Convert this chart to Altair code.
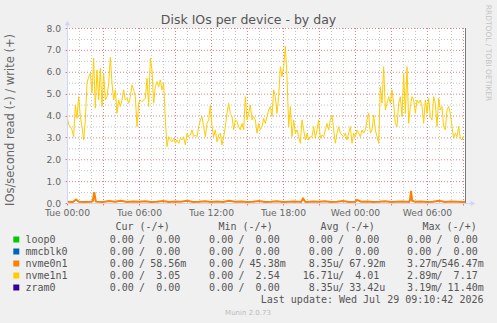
import json
import altair as alt
import pandas as pd

# ---------------- data ----------------
x_tick_hours = [0, 6, 12, 18, 24, 30]
x_tick_labels = ["Tue 00:00", "Tue 06:00", "Tue 12:00", "Tue 18:00", "Wed 00:00", "Wed 06:00"]
y_ticks = [0, 1, 2, 3, 4, 5, 6, 7, 8]
span_hours = 33.25
sample_minutes = 25 / 3

nvme1n1_write = [
    4.02, 3.57, 3.49, 3.34, 3.03, 4.48, 3.87, 4.86, 3.95, 3.49,
    2.88, 3.80, 5.47, 5.78, 5.93, 5.02, 6.62, 4.33, 6.08, 4.71,
    6.16, 4.41, 5.93, 4.71, 4.86, 5.47, 6.66, 5.47, 4.71, 5.17,
    4.10, 4.71, 4.41, 4.71, 5.17, 4.71, 4.79, 4.56, 4.86, 5.40,
    5.17, 4.86, 3.49, 4.56, 4.71, 4.63, 4.71, 4.79, 5.70, 4.41,
    6.62, 6.08, 4.56, 5.32, 5.55, 5.32, 5.63, 5.17, 5.47, 3.80,
    2.58, 3.03, 2.88, 2.80, 2.96, 2.73, 2.88, 2.73, 2.96, 2.88,
    3.03, 2.65, 3.19, 3.03, 3.11, 3.34, 3.03, 3.11, 3.03, 3.49,
    3.80, 3.95, 3.49, 3.03, 3.64, 3.80, 4.48, 3.49, 3.03, 3.34,
    2.80, 3.11, 3.19, 2.65, 3.03, 3.49, 4.10, 4.56, 4.10, 3.95,
    3.34, 3.80, 3.72, 3.49, 3.34, 3.64, 3.34, 4.86, 3.80, 4.10,
    4.48, 3.80, 3.95, 3.80, 3.19, 3.64, 3.34, 3.49, 3.87, 3.64,
    3.95, 4.25,
    4.41, 3.95, 5.17, 4.86, 4.10, 4.86, 6.23, 5.78, 6.23, 7.17,
    5.78, 3.49, 4.41, 3.03, 3.80, 3.19, 3.34, 3.03, 2.73, 3.80,
    3.34, 2.88, 3.19, 2.88, 3.03, 3.03, 3.49, 2.96, 3.34, 3.80,
    2.96, 3.11, 3.03, 3.34, 3.64, 3.34, 3.80, 4.02, 3.34, 2.73,
    3.19, 3.49, 3.19, 3.11, 3.03, 3.19, 2.88, 3.19, 3.49, 2.73,
    3.19, 3.03, 3.34, 3.19, 3.03, 3.34, 3.19, 3.34, 3.80, 4.10,
    3.19, 3.34, 4.02, 3.34, 3.03, 2.73, 5.32, 4.56, 6.23, 4.25,
    4.56, 4.86, 4.56, 5.17, 4.56, 3.64, 3.49, 4.56, 4.86, 3.95,
    5.93, 4.10, 6.23, 3.64, 4.41, 4.86, 4.71, 4.10, 4.71, 4.56,
    4.71, 4.41, 3.64, 4.71, 4.10, 4.79, 3.95, 3.80, 4.86, 4.56,
    3.49, 4.79, 4.25, 4.41, 3.49, 3.34, 4.25, 4.41, 4.10, 3.49,
    2.96, 3.19, 3.03, 3.49, 2.96, 2.88, 3.05,
]

nvme0n1_hours = [
    0.0, 0.5, 0.75, 1.0, 1.5, 2.0, 2.15, 2.27, 2.4, 2.5,
    3.0, 3.5, 4.0, 4.5, 5.0, 5.5, 6.0,
    6.5, 7.0, 7.5, 8.0, 8.5, 9.0, 9.5, 10.0,
    10.5, 11.0, 11.5, 12.0, 12.5, 13.0, 13.5, 14.0,
    14.5, 15.0, 15.5, 16.0, 16.5, 17.0, 17.5, 18.0,
    18.5, 19.0, 19.5, 19.67, 19.85, 20.0,
    20.5, 21.0, 21.5, 22.0, 22.5, 23.0, 23.5, 24.0,
    24.17, 24.5, 25.0, 25.5, 26.0, 26.5, 27.0, 27.5, 28.0,
    28.5, 28.58, 28.67, 28.76, 29.0,
    29.5, 30.0, 30.5, 31.0, 31.5, 32.0, 32.5, 33.0, 33.2,
]
nvme0n1_write = [
    0.06, 0.05, 0.16, 0.06, 0.05, 0.06, 0.08, 0.50, 0.07, 0.06,
    0.05, 0.09, 0.06, 0.10, 0.05, 0.07, 0.06,
    0.08, 0.05, 0.06, 0.09, 0.05, 0.07, 0.06, 0.10,
    0.05, 0.06, 0.08, 0.05, 0.07, 0.05, 0.10, 0.06,
    0.07, 0.05, 0.06, 0.09, 0.05, 0.06, 0.08, 0.05,
    0.06, 0.07, 0.05, 0.20, 0.06, 0.05,
    0.07, 0.06, 0.08, 0.05, 0.06, 0.09, 0.05, 0.06,
    0.14, 0.06, 0.07, 0.05, 0.06, 0.08, 0.05, 0.06, 0.07,
    0.05, 0.12, 0.55, 0.10, 0.06,
    0.07, 0.05, 0.06, 0.10, 0.05, 0.07, 0.06, 0.05, 0.06,
]

devices = ["loop0", "mmcblk0", "nvme0n1", "nvme1n1", "zram0"]
device_colors = ["#00CC00", "#0066B3", "#FF8000", "#FFCC00", "#330099"]
cur_read = ["0.00", "0.00", "0.00", "0.00", "0.00"]
cur_write = ["0.00", "0.00", "58.56m", "3.05", "0.00"]
min_read = ["0.00", "0.00", "0.00", "0.00", "0.00"]
min_write = ["0.00", "0.00", "45.38m", "2.54", "0.00"]
avg_read = ["0.00", "0.00", "8.35u", "16.71u", "8.35u"]
avg_write = ["0.00", "0.00", "67.92m", "4.01", "33.42u"]
max_read = ["0.00", "0.00", "3.27m", "2.89m", "3.19m"]
max_write = ["0.00", "0.00", "546.47m", "7.17", "11.40m"]
column_titles = ["Cur (-/+)", "Min (-/+)", "Avg (-/+)", "Max (-/+)"]

title_text = "Disk IOs per device - by day"
y_title = "IOs/second read (-) / write (+)"
last_update = "Last update: Wed Jul 29 09:10:42 2026"
footer = "Munin 2.0.73"
watermark = "RRDTOOL / TOBI OETIKER"

# ---------------- layout / style ----------------
CW, CH = 497, 323
LEFT, TOP = 67, 28
W, H = 399, 175
FONT = "DejaVu Sans"
MONO = "DejaVu Sans Mono"
TXT = "#666666"
LEG = "#555555"
AXIS_C = "#CFD6F8"
GRID_MINOR = "#C4C4C4"
GRID_MAJOR = "#E67C7C"


def px(x):
    return x - LEFT


def py(y):
    return y - TOP


xscale = alt.Scale(domain=[0, span_hours], nice=False, zero=False)
yscale = alt.Scale(domain=[0, 8], nice=False, zero=True)
one = pd.DataFrame({"k": [0]})

label_expr = ("(datum.value % 6 == 0) ? " + json.dumps(x_tick_labels)
              + "[datum.value / 6] : ''")
x_axis = alt.Axis(
    values=list(range(0, 34, 3)), labelExpr=label_expr, title=None,
    domain=False, grid=False, ticks=True, tickSize=2, tickColor=GRID_MAJOR,
    labelFont=FONT, labelFontSize=9.2, labelColor=TXT, labelPadding=3.5,
    labelFlush=False, labelOverlap=False)
y_axis = alt.Axis(
    values=y_ticks, format=".1f", title=None, domain=False, grid=False,
    ticks=True, tickSize=2, tickColor=GRID_MAJOR, labelFont=FONT,
    labelFontSize=9.2, labelColor=TXT, labelPadding=4.5)


def X(field):
    return alt.X(field, scale=xscale, axis=x_axis)


def Y(field):
    return alt.Y(field, scale=yscale, axis=y_axis)


df_y = pd.DataFrame({
    "t": [i * sample_minutes / 60 for i in range(len(nvme1n1_write))],
    "v": nvme1n1_write,
})
df_o = pd.DataFrame({"t": nvme0n1_hours, "v": nvme0n1_write})

# grid
gx_minor = alt.Chart(pd.DataFrame({"t": list(range(1, 34))})).mark_rule(
    color=GRID_MINOR, strokeDash=[1, 2], strokeWidth=1, xOffset=0.5
).encode(x=X("t:Q"))
gx_major = alt.Chart(pd.DataFrame({"t": list(range(3, 34, 3))})).mark_rule(
    color=GRID_MAJOR, strokeDash=[1, 2], strokeWidth=1, xOffset=0.5
).encode(x=X("t:Q"))
gy_minor = alt.Chart(pd.DataFrame({"v": [k + 0.5 for k in range(8)]})).mark_rule(
    color=GRID_MINOR, strokeDash=[1, 2], strokeWidth=1, yOffset=0.5
).encode(y=Y("v:Q"))
gy_major = alt.Chart(pd.DataFrame({"v": y_ticks[1:]})).mark_rule(
    color=GRID_MAJOR, strokeDash=[1, 2], strokeWidth=1, yOffset=0.5
).encode(y=Y("v:Q"))

# data lines
orange = alt.Chart(df_o).mark_line(color="#FF8000", strokeWidth=2).encode(
    x=X("t:Q"), y=Y("v:Q"))
yellow = alt.Chart(df_y).mark_line(color="#FFCC00", strokeWidth=1).encode(
    x=X("t:Q"), y=Y("v:Q"))

# axes lines + arrows + right border
y_axis_line = alt.Chart(one).mark_rule(color=AXIS_C, strokeWidth=1).encode(
    x=alt.value(0.5), y=alt.value(H), y2=alt.value(-4))
x_axis_line = alt.Chart(one).mark_rule(color=AXIS_C, strokeWidth=1).encode(
    x=alt.value(0), x2=alt.value(W + 5), y=alt.value(H + 0.5))
y_arrow = alt.Chart(one).mark_point(shape="triangle-up", filled=True, size=28,
                                    color=AXIS_C, opacity=1).encode(
    x=alt.value(0.5), y=alt.value(-5))
x_arrow = alt.Chart(one).mark_point(shape="triangle-right", filled=True, size=28,
                                    color=AXIS_C, opacity=1).encode(
    x=alt.value(W + 7), y=alt.value(H + 0.5))
right_line = alt.Chart(one).mark_rule(color="#7A7A7A", strokeWidth=1).encode(
    x=alt.value(W - 0.5), y=alt.value(0), y2=alt.value(H))

# titles
title = alt.Chart(one).mark_text(font=FONT, fontSize=12.5, color="#555555",
                                 align="center", baseline="alphabetic").encode(
    x=alt.value(px(248.5)), y=alt.value(py(23.5)), text=alt.value(title_text))
ytitle = alt.Chart(one).mark_text(font=FONT, fontSize=11.5, color=TXT, angle=270,
                                  align="center", baseline="middle").encode(
    x=alt.value(px(11)), y=alt.value(py(120)), text=alt.value(y_title))
wmark = alt.Chart(one).mark_text(font=FONT, fontSize=7.5, color="#C4C4C4", angle=90,
                                 align="center", baseline="middle").encode(
    x=alt.value(px(488)), y=alt.value(py(53)), text=alt.value(watermark))


# legend
def num(s):
    return s.rstrip("mu")


def unit(s):
    return s[len(s.rstrip("mu")):]


cols = {"device": devices, "color": device_colors, "row": list(range(len(devices)))}
for key, rd, wr in [("cur", cur_read, cur_write), ("min", min_read, min_write),
                    ("avg", avg_read, avg_write), ("max", max_read, max_write)]:
    cols[f"{key}_rn"] = [num(s) for s in rd]
    cols[f"{key}_ru"] = [unit(s) for s in rd]
    cols[f"{key}_wn"] = [num(s) for s in wr]
    cols[f"{key}_wu"] = [unit(s) for s in wr]
leg = pd.DataFrame(cols)

ROW0, ROW_STEP = 239.5, 12
ycalc = f"{py(ROW0)} + datum.row * {ROW_STEP}"
ych = alt.Y("yy:Q", scale=None, axis=None)
legbase = alt.Chart(leg).transform_calculate(yy=ycalc)


def mono_text(align):
    return dict(font=MONO, fontSize=10, color=LEG, align=align, baseline="middle")


legend_layers = [
    legbase.mark_square(filled=True, size=36, opacity=1).encode(
        x=alt.value(px(16.3)), y=ych, color=alt.Color("color:N", scale=None)),
    legbase.mark_text(**mono_text("left")).encode(
        x=alt.value(px(25.5)), y=ych, text="device:N"),
]
L_pos = [133.3, 232.7, 332.3, 430.7]
for i, key in enumerate(["cur", "min", "avg", "max"]):
    L = L_pos[i] + 0.5
    R = L + 46.5
    legend_layers += [
        legbase.mark_text(**mono_text("right")).encode(
            x=alt.value(px(L)), y=ych, text=f"{key}_rn:N"),
        legbase.mark_text(**mono_text("left")).encode(
            x=alt.value(px(L)), y=ych, text=f"{key}_ru:N"),
        legbase.mark_text(**mono_text("left")).encode(
            x=alt.value(px(L + 5.2)), y=ych, text=alt.value("/")),
        legbase.mark_text(**mono_text("right")).encode(
            x=alt.value(px(R)), y=ych, text=f"{key}_wn:N"),
        legbase.mark_text(**mono_text("left")).encode(
            x=alt.value(px(R)), y=ych, text=f"{key}_wu:N"),
    ]

header_x = [116, 219, 321, 423]
for i, t in enumerate(column_titles):
    legend_layers.append(alt.Chart(one).mark_text(**mono_text("left")).encode(
        x=alt.value(px(header_x[i] - 0.5)), y=alt.value(py(227)), text=alt.value(t)))

legend_layers.append(alt.Chart(one).mark_text(**mono_text("right")).encode(
    x=alt.value(px(483.5)), y=alt.value(py(299.5)), text=alt.value(last_update)))
legend_layers.append(alt.Chart(one).mark_text(
    font=FONT, fontSize=7, color="#BBBBBB", align="center", baseline="middle").encode(
    x=alt.value(px(248)), y=alt.value(py(312.5)), text=alt.value(footer)))

chart = alt.layer(
    gx_minor, gy_minor, gx_major, gy_major,
    orange, yellow,
    y_axis_line, x_axis_line, y_arrow, x_arrow, right_line,
    title, ytitle, wmark,
    *legend_layers,
).properties(
    width=W, height=H,
    background="#F0F0F0",
    padding={"left": LEFT, "top": TOP, "right": CW - LEFT - W, "bottom": CH - TOP - H},
    autosize=alt.AutoSizeParams(type="none"),
).configure_view(stroke=None, fill="white")

chart.save("out.html", embed_options={"renderer": "svg", "actions": False})
